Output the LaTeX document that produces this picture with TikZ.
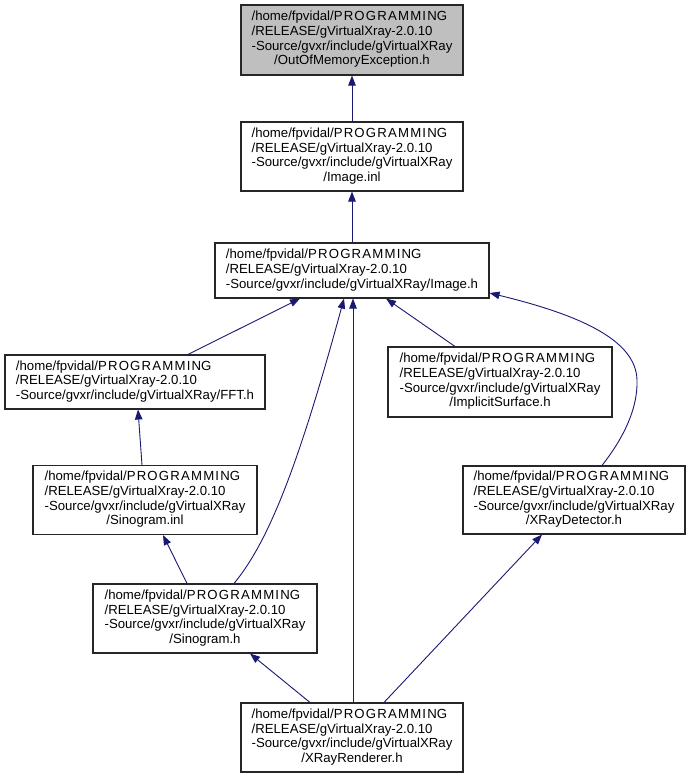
\documentclass[tikz,border=0pt]{standalone}
\usepackage{fontspec}
\setmainfont{Liberation Sans}
\usetikzlibrary{arrows.meta}
\definecolor{edgeblue}{RGB}{25,25,112}
\definecolor{boxgray}{RGB}{191,191,191}
\begin{document}
\begin{tikzpicture}[x=1pt,y=-1pt,
  fbox/.style={draw=black!85, line width=1.1pt, rectangle, inner sep=0pt, fill=white,
    font=\fontsize{13.2}{14.7}\selectfont},
  dep/.style={draw=edgeblue, line width=0.9pt, -{Triangle[length=10pt,width=7.5pt]}}]
\useasboundingbox (0,0) rectangle (691,779);
\newcommand\prg{{\addfontfeature{LetterSpace=9}PROGRAMMIN}G}
\newcommand\flab[1]{\begin{tabular}{@{}l@{}}/home/fpvidal/\prg\\/RELEASE/gVirtualXray-2.0.10\\-Source/gvxr/include/gVirtualXRay\\\multicolumn{1}{@{}c@{}}{#1}\end{tabular}}
\newcommand\slab[1]{\begin{tabular}{@{}l@{}}/home/fpvidal/\prg\\/RELEASE/gVirtualXray-2.0.10\\-Source/gvxr/include/gVirtualXRay/#1\end{tabular}}

\node[fbox, fill=boxgray, minimum width=222pt, minimum height=70pt] (oom) at (352,40) {\flab{/OutOfMemoryException.h}};
\node[fbox, minimum width=222pt, minimum height=69pt] (inl) at (352,156.5) {\flab{/Image.inl}};
\node[fbox, minimum width=274pt, minimum height=55pt] (imgh) at (352,270.5) {\slab{Image.h}};
\node[fbox, minimum width=260pt, minimum height=54pt] (fft) at (135,382) {\slab{FFT.h}};
\node[fbox, minimum width=224pt, minimum height=70pt] (impl) at (500,382) {\flab{/ImplicitSurface.h}};
\node[fbox, minimum width=224pt, minimum height=69pt] (sinl) at (145,500) {\flab{/Sinogram.inl}};
\node[fbox, minimum width=222pt, minimum height=68pt] (det) at (574,500) {\flab{/XRayDetector.h}};
\node[fbox, minimum width=224pt, minimum height=69pt] (sinh) at (205,618.5) {\flab{/Sinogram.h}};
\node[fbox, minimum width=222pt, minimum height=69pt] (ren) at (352,737.5) {\flab{/XRayRenderer.h}};

\draw[dep] (inl.north) -- (oom.south);
\draw[dep] (imgh.north) -- (inl.south);
\draw[dep] (fft.north -| 188,0) -- (imgh.south -| 300,0);
\draw[dep] (impl.north -| 455,0) -- (imgh.south -| 386,0);
\draw[dep] (det.north -| 602,0) .. controls (622,440) and (638,410) .. (637,380)
  .. controls (636,340) and (580,315) .. (imgh.east |- 0,293);
\draw[dep] (sinl.north -| 142,0) -- (fft.south -| 138,0);
\draw[dep] (sinh.north -| 234,0) .. controls (270,540) and (300,460) .. (imgh.south -| 344,0);
\draw[dep] (sinh.north -| 187,0) -- (sinl.south -| 163,0);
\draw[dep] (ren.north -| 353,0) -- (imgh.south -| 353,0);
\draw[dep] (ren.north -| 310,0) -- (sinh.south -| 250,0);
\draw[dep] (ren.north -| 384,0) -- (det.south -| 542,0);
\end{tikzpicture}
\end{document}
